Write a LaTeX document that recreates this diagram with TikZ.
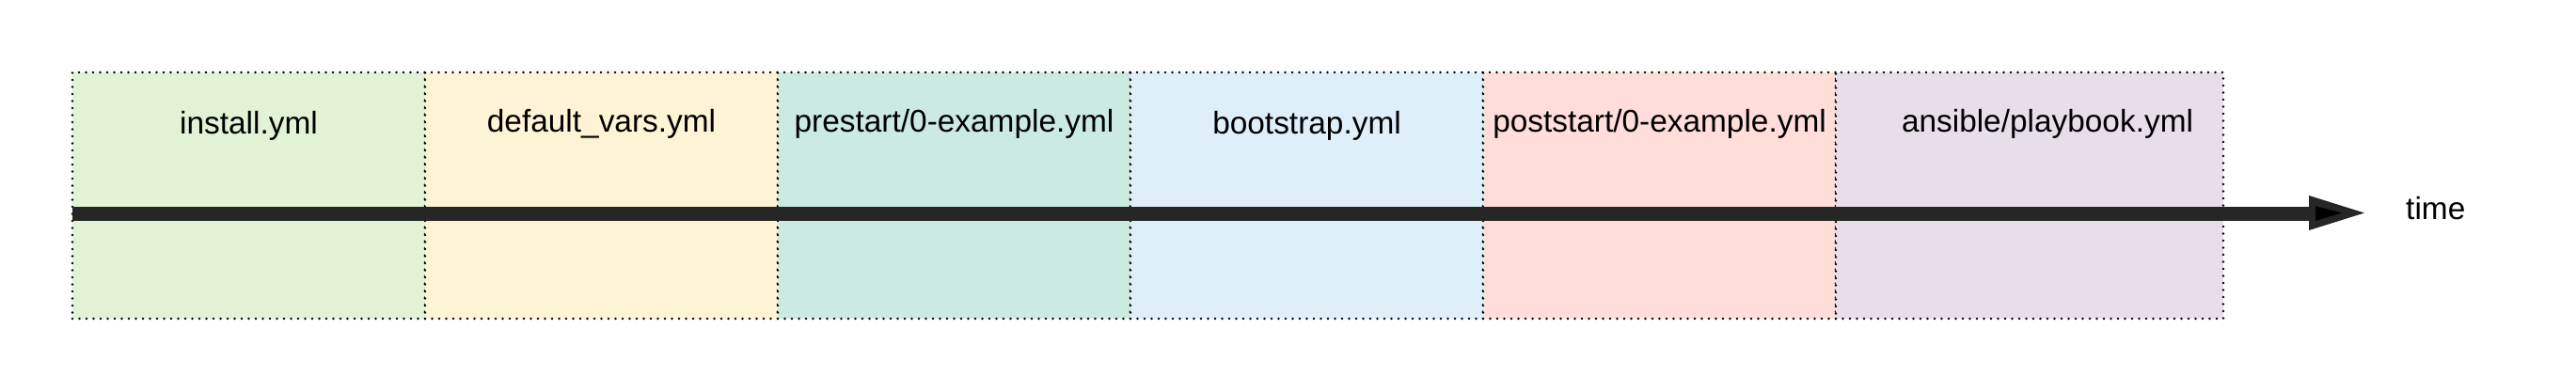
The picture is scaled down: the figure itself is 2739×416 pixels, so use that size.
\documentclass[tikz,border=0pt]{standalone}
\usepackage{fontspec}
\setmainfont{Liberation Sans}
\definecolor{cgreen}{HTML}{E1F2D5}
\definecolor{cyellow}{HTML}{FFF3D5}
\definecolor{cteal}{HTML}{CBEAE2}
\definecolor{cblue}{HTML}{DEEFFA}
\definecolor{cpink}{HTML}{FFDDD9}
\definecolor{cpurple}{HTML}{E7DEEA}
\definecolor{axis}{HTML}{262626}
\tikzset{
  phase/.style={draw=black, line width=2.8pt, line cap=round, dash pattern=on 0pt off 7.5pt, inner sep=0pt, outer sep=0pt, anchor=south west},
  lbl/.style={font=\fontsize{33.4}{40}\selectfont, anchor=base, inner sep=0pt},
  axisline/.style={draw=axis, line width=15pt},
}
\begin{document}
\begin{tikzpicture}[x=1pt,y=1pt]
\useasboundingbox (0,0) rectangle (2739,416);
\node[phase, fill=cgreen,  minimum width=375pt, minimum height=262pt] (b1) at (77,77) {};
\node[phase, fill=cyellow, minimum width=375pt, minimum height=262pt] (b2) at (452,77) {};
\node[phase, fill=cteal,   minimum width=375pt, minimum height=262pt] (b3) at (827,77) {};
\node[phase, fill=cblue,   minimum width=375pt, minimum height=262pt] (b4) at (1202,77) {};
\node[phase, fill=cpink,   minimum width=375pt, minimum height=262pt] (b5) at (1577,77) {};
\node[phase, fill=cpurple, minimum width=412pt, minimum height=262pt] (b6) at (1952,77) {};
\node[lbl] (t1) at (264.5,274) {install.yml};
\node[lbl] (t2) at (639.5,276) {default\_vars.yml};
\node[lbl] (t3) at (1014.5,276) {prestart/0-example.yml};
\node[lbl] (t4) at (1389.5,274) {bootstrap.yml};
\node[lbl] (t5) at (1764.5,276) {poststart/0-example.yml};
\node[lbl] (t6) at (2177,276) {ansible/playbook.yml};
\node[lbl, anchor=base west] (time) at (2558,183) {time};
\coordinate (start) at (b1.west |- 0,189);
\coordinate (headbase) at (2458,189);
\coordinate (tip) at (2514,189.5);
\draw[axisline] (start) -- (headbase);
\fill[axis] (2455,208) -- (tip) -- (2455,171) -- cycle;
\fill[black] (2462,197) -- (2490,189.5) -- (2462,181) -- cycle;
\end{tikzpicture}
\end{document}
